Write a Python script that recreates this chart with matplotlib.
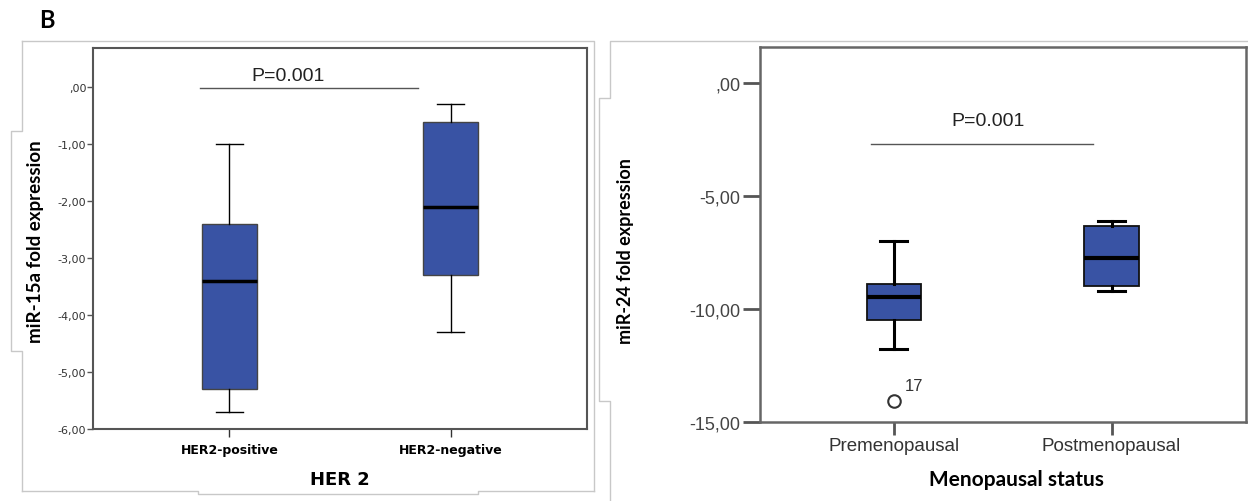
import matplotlib
matplotlib.use("Agg")
import matplotlib.pyplot as plt
from matplotlib.lines import Line2D
from matplotlib.ticker import FuncFormatter

# HER2 panel (miR-15a)
her2_groups = ['HER2-positive', 'HER2-negative']
her2_whislo = [-5.7, -4.3]
her2_q1 = [-5.3, -3.3]
her2_med = [-3.4, -2.1]
her2_q3 = [-2.4, -0.61]
her2_whishi = [-1.0, -0.3]
her2_yticks = [0, -1, -2, -3, -4, -5, -6]

# menopausal panel (miR-24)
meno_groups = ['Premenopausal', 'Postmenopausal']
meno_whislo = [-11.8, -9.22]
meno_q1 = [-10.5, -9.0]
meno_med = [-9.49, -7.75]
meno_q3 = [-8.9, -6.33]
meno_whishi = [-7.0, -6.1]
meno_fliers = [[-14.1], []]
meno_outlier_id = '17'
meno_yticks = [0, -5, -10, -15]

p_text = 'P=0.001'

W, H = 1248, 502
BOX = '#3953a4'
SPINE = '#555555'
BORDER = '#c8c8c8'


def spss_fmt(v, pos):
    # SPSS style: ",00", "-1,00"
    s = f"{abs(v):.2f}".replace('.', ',')
    if s.startswith('0'):
        s = s[1:]
    return ('-' if v < -1e-9 else '') + s


def make_stats(whislo, q1, med, q3, whishi, fliers=None):
    stats = []
    for i in range(len(med)):
        stats.append({'whislo': whislo[i], 'q1': q1[i], 'med': med[i],
                      'q3': q3[i], 'whishi': whishi[i],
                      'fliers': fliers[i] if fliers else []})
    return stats


def px_line(fig, xs, ys):
    fig.add_artist(Line2D([x / W for x in xs], [1 - y / H for y in ys],
                          transform=fig.transFigure, color=BORDER, lw=1))


fig = plt.figure(figsize=(W / 100, H / 100), dpi=100)

# outer panel frames (light gray)
px_line(fig, [22, 594, 594], [42.3, 42.3, 492])
px_line(fig, [22, 22, 10.7, 10.7, 22, 22], [42.3, 132, 132, 352, 352, 492])
px_line(fig, [22, 198, 198, 478, 478, 594], [492, 492, 495, 495, 492, 492])
px_line(fig, [1248, 610, 610, 599, 599, 610, 610], [42.3, 42.3, 99, 99, 402, 402, 502])

fig.text(47 / W, 1 - 20 / H, 'B', fontsize=17, fontweight='bold',
         family='Lato', ha='center', va='center')

# ---- left panel ----
ax1 = fig.add_axes([93.3 / W, 1 - 430 / H, 493.4 / W, 381 / H])
ax1.bxp(make_stats(her2_whislo, her2_q1, her2_med, her2_q3, her2_whishi),
        positions=[1, 2], widths=0.25, patch_artist=True, showfliers=False,
        boxprops=dict(facecolor=BOX, edgecolor='#444444', lw=1),
        whiskerprops=dict(color='black', lw=1),
        capprops=dict(color='black', lw=1), capwidths=0.125,
        medianprops=dict(color='black', lw=2.5))
ax1.set_xlim(0.385, 2.615)
ax1.set_ylim(-6, 0.684)
ax1.set_yticks(her2_yticks)
ax1.yaxis.set_major_formatter(FuncFormatter(spss_fmt))
ax1.set_xticks([1, 2])
ax1.set_xticklabels(her2_groups, fontsize=9, fontweight='bold', family='DejaVu Sans')
ax1.tick_params(axis='y', length=4, width=1, color=SPINE, labelsize=8,
                labelcolor='#333333', pad=1)
ax1.tick_params(axis='x', length=6, width=1, color='#333333', pad=4)
for sp in ax1.spines.values():
    sp.set_color(SPINE)
    sp.set_linewidth(1.5)
ax1.plot([0.865, 1.852], [-0.02, -0.02], color=SPINE, lw=1)
ax1.text(1.264, 0.21, p_text, fontsize=14, family='Liberation Sans',
         ha='center', va='center', color='#222222')
ax1.set_xlabel('HER 2', fontsize=13, fontweight='bold', family='DejaVu Sans', va='center')
ax1.xaxis.set_label_coords(0.5, -0.131)
ax1.set_ylabel('miR-15a fold expression', fontsize=13.5, fontweight='bold',
               family='Lato', va='center')
ax1.yaxis.set_label_coords(-0.117, 0.494)

# ---- right panel ----
ax2 = fig.add_axes([760 / W, 1 - 422.7 / H, 485.5 / W, 375 / H])
ax2.bxp(make_stats(meno_whislo, meno_q1, meno_med, meno_q3, meno_whishi, meno_fliers),
        positions=[1, 2], widths=0.25, patch_artist=True, showfliers=True,
        boxprops=dict(facecolor=BOX, edgecolor='#111111', lw=1.3),
        whiskerprops=dict(color='black', lw=2.2),
        capprops=dict(color='black', lw=2.2), capwidths=0.124,
        medianprops=dict(color='black', lw=3),
        flierprops=dict(marker='o', markersize=9, markerfacecolor='white',
                        markeredgecolor='#333333', markeredgewidth=1.5))
ax2.text(1.092, -13.4, meno_outlier_id, fontsize=12, family='Liberation Sans',
         ha='center', va='center', color='#333333')
ax2.set_xlim(0.385, 2.615)
ax2.set_ylim(-15, 1.61)
ax2.set_yticks(meno_yticks)
ax2.yaxis.set_major_formatter(FuncFormatter(spss_fmt))
ax2.set_xticks([1, 2])
ax2.set_xticklabels(meno_groups, fontsize=13.5, family='Liberation Sans', color='#333333')
for lab in ax2.get_yticklabels():
    lab.set_family('Liberation Sans')
ax2.tick_params(axis='y', length=12, width=2, color=SPINE, labelsize=13,
                labelcolor='#444444', pad=2)
ax2.tick_params(axis='x', length=9, width=2, color=SPINE, pad=2)
for sp in ax2.spines.values():
    sp.set_color('#666666')
    sp.set_linewidth(1.8)
ax2.plot([0.897, 1.915], [-2.70, -2.70], color=SPINE, lw=1)
ax2.text(1.434, -1.68, p_text, fontsize=14, family='Liberation Sans',
         ha='center', va='center', color='#222222')
ax2.set_xlabel('Menopausal status', fontsize=15, fontweight='bold', family='Lato', va='center')
ax2.xaxis.set_label_coords(0.529, -0.153)
ax2.set_ylabel('miR-24 fold expression', fontsize=13, fontweight='bold',
               family='Lato', va='center')
ax2.yaxis.set_label_coords(-0.278, 0.458)

fig.savefig('out.png', dpi=100)
